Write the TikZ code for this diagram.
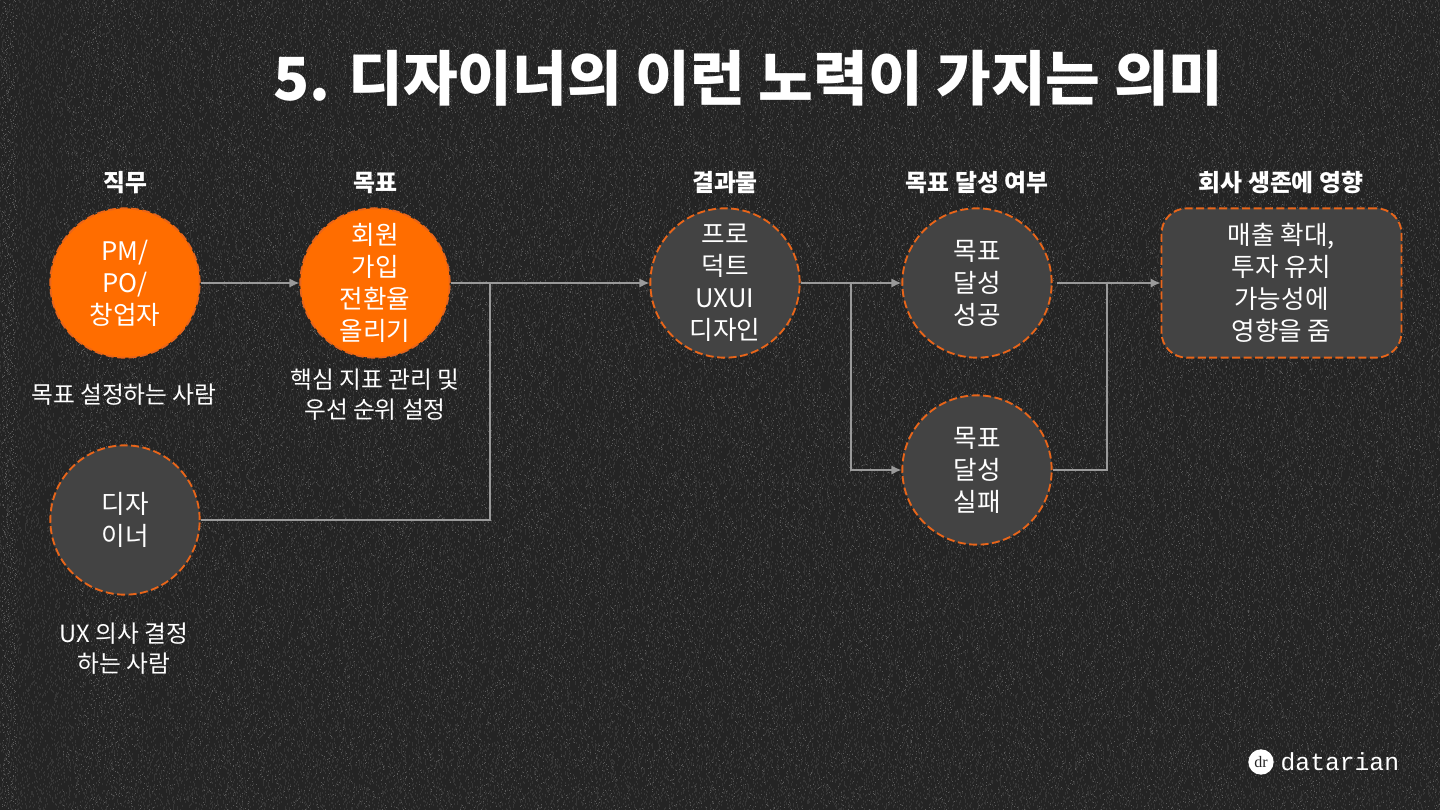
\documentclass[tikz,border=0pt]{standalone}
\usepackage{fontspec}
\setmainfont{Noto Sans CJK KR}
\newfontfamily\logofont{Liberation Mono}
\newfontfamily\iconfont{Liberation Serif}
\usetikzlibrary{arrows.meta,positioning,calc}
\definecolor{bgdark}{HTML}{242424}
\definecolor{grainlow}{HTML}{363636}
\definecolor{grainhigh}{HTML}{5A5A5A}
\definecolor{fillgray}{HTML}{434343}
\definecolor{fillorange}{HTML}{FF6D00}
\definecolor{dashorange}{HTML}{E8651A}
\definecolor{linkgray}{HTML}{9A9A9A}
\tikzset{
  graycirc/.style={circle,draw=dashorange,fill=fillgray,line width=1.4pt,dash pattern=on 6pt off 2.6pt,minimum size=112pt,inner sep=0pt,text=white,align=center,font=\fontsize{19.2}{24}\selectfont},
  orangecirc/.style={graycirc,fill=fillorange},
  roundv/.style={graycirc,rectangle,rounded corners=19pt,minimum width=180pt,minimum height=112pt},
  lab/.style={text=white,align=center,font=\fontsize{17.8}{22.5}\selectfont},
  headlab/.style={text=white,align=center,font=\fontsize{17.9}{20}\selectfont\bfseries},
  link/.style={draw=linkgray,line width=1.2pt},
  linkarrow/.style={link,-{Latex[length=7.5pt,width=7pt]}}
}
\begin{document}
\begin{tikzpicture}[x=.75pt,y=-.75pt]
  \useasboundingbox (0,0) rectangle (1440,810);
  \fill[bgdark] (0,0) rectangle (1440,810);
  % grain, one broken line per pixel row
  \pgfmathsetseed{7}
  \foreach \gy in {0,...,810}{
    \pgfmathsetmacro{\ga}{random(1,9)}
    \pgfmathsetmacro{\gb}{random(2,16)}
    \pgfmathsetmacro{\gc}{random(1,12)}
    \pgfmathsetmacro{\gd}{random(3,20)}
    \pgfmathsetmacro{\ge}{random(1,9)}
    \pgfmathsetmacro{\gf}{random(40,90)}
    \draw[grainlow,line width=.8pt,dash pattern=on .8pt off \ga pt on .8pt off \gb pt on .8pt off \gc pt on .8pt off \gd pt on .8pt off \ge pt,dash phase=\gf pt] (0,\gy)--(1440,\gy);
    \draw[grainhigh,line width=.6pt,dash pattern=on .6pt off \gf pt on .6pt off \gd pt] (\gb,\gy)--(1440,\gy);
  }

  \node[text=white,font=\fontsize{44.6}{50}\selectfont\bfseries] (title) at (748.5,78) {5. 디자이너의 이런 노력이 가지는 의미};

  % column heads
  \node[headlab] (hjob) at (125,183) {직무};
  \node[headlab] (hgoal) at (375,183) {목표};
  \node[headlab] (hout) at (725,183) {결과물};
  \node[headlab] (hreach) at (977,183) {목표 달성 여부};
  \node[headlab] (hcomp) at (1281,183) {회사 생존에 영향};

  \node[orangecirc] (pm) at (125,283) {PM/\\PO/\\창업자};
  \node[orangecirc] (goal) at (375,283) {회원\\가입\\전환율\\올리기};
  \node[graycirc] (designer) at (125,520) {디자\\이너};
  \node[graycirc] (product) at (725,283) {프로\\덕트\\UXUI\\디자인};
  \node[graycirc] (success) at (977,283) {목표\\달성\\성공};
  \node[graycirc] (fail) at (977,470) {목표\\달성\\실패};
  \node[roundv] (impact) at (1281.5,283) {매출 확대,\\투자 유치\\가능성에\\영향을 줌};

  \node[lab] (pmlab) at (124,395) {목표 설정하는 사람};
  \node[lab] (goallab) at (375,395) {핵심 지표 관리 및\\우선 순위 설정};
  \node[lab] (deslab) at (124,649) {UX 의사 결정\\하는 사람};

  % logo
  \node[circle,fill=white,minimum size=19pt,inner sep=0pt,text=bgdark,font=\iconfont\fontsize{12}{12}\selectfont] (logoicon) at (1261,762) {dr};
  \node[right=1.5pt of logoicon,text=white,font=\logofont\fontsize{18.5}{20}\selectfont] (logotext) {datarian};

  \coordinate (j1) at (490,283);
  \coordinate (j2) at (851,283);
  \coordinate (j3) at (1107,283);

  \draw[linkarrow] (pm)--(goal);
  \draw[linkarrow] (goal)--(product);
  \draw[link] (designer)-|(j1);
  \draw[linkarrow] (product)--(success);
  \draw[linkarrow] (j2)|-(fail);
  \draw[linkarrow,shorten <=3pt] (success)--(impact);
  \draw[link] (fail)-|(j3);
\end{tikzpicture}
\end{document}
